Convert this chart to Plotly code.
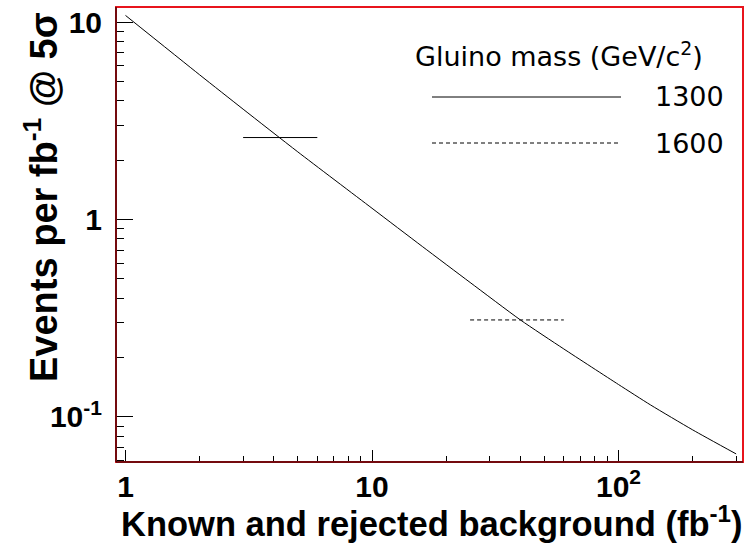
import numpy as np
import plotly.graph_objects as go

# Signal events per fb^-1 needed for a 5 sigma observation vs. background
background = [1, 2, 3, 5, 10, 16, 25, 40, 60, 100, 135, 200, 300]
events_5sigma = [10.8, 5.4, 3.62, 2.2, 1.14, 0.73, 0.48, 0.31, 0.221, 0.146, 0.115, 0.086, 0.065]

# Background ranges and required rates for the two gluino masses
mass_labels = ["1300", "1600"]
mass_bkg_ranges = [[3, 6], [25, 60]]
mass_events = [2.6, 0.31]
mass_dash = ["solid", "4px,3px"]

x_tickvals = [1, 10, 100]
x_ticktext = ["1", "10", "10<sup>2</sup>"]
y_tickvals = [0.1, 1, 10]
y_ticktext = ["10<sup>-1</sup>", "1", "10"]

W, H = 747, 547
L, R, T, B = 116, 4, 7, 85

fig = go.Figure()

fig.add_trace(go.Scatter(
    x=background, y=events_5sigma, mode="lines",
    line=dict(color="black", width=1, shape="spline", smoothing=0.6),
    showlegend=False, hoverinfo="skip"))

for rng, ev, dash in zip(mass_bkg_ranges, mass_events, mass_dash):
    fig.add_trace(go.Scatter(
        x=rng, y=[ev, ev], mode="lines",
        line=dict(color="black", width=1, dash=dash),
        showlegend=False, hoverinfo="skip"))

minor_x = [m * 10 ** e for e in range(0, 3) for m in range(2, 10) if m * 10 ** e < 330]
minor_y = [m * 10 ** e for e in range(-2, 2) for m in range(2, 10) if 0.055 < m * 10 ** e < 12.5]

FAM = "Liberation Sans, Arial, sans-serif"
bold = dict(family=FAM, size=30, color="black", weight="bold")

fig.update_xaxes(
    type="log", range=[-0.0385, 2.505],
    tickmode="array", tickvals=x_tickvals, ticktext=x_ticktext,
    ticks="inside", ticklen=12, tickwidth=1, tickcolor="black",
    minor=dict(tickmode="array", tickvals=minor_x, ticks="inside", ticklen=6,
               tickwidth=1, tickcolor="black", showgrid=False),
    showgrid=False, zeroline=False, showline=False,
    tickfont=bold, ticklabelstandoff=4)

fig.update_yaxes(
    type="log", range=[-1.228, 1.076],
    tickmode="array", tickvals=y_tickvals, ticktext=y_ticktext,
    ticks="inside", ticklen=17, tickwidth=1, tickcolor="black",
    minor=dict(tickmode="array", tickvals=minor_y, ticks="inside", ticklen=8,
               tickwidth=1, tickcolor="black", showgrid=False),
    showgrid=False, zeroline=False, showline=False,
    tickfont=bold, ticklabelstandoff=13)

# Frame: red box with black axis lines on the left and bottom
fig.add_shape(type="rect", xref="paper", yref="paper", x0=0, y0=0, x1=1, y1=1,
              line=dict(color="#e8141c", width=2), layer="above")
fig.add_shape(type="line", xref="paper", yref="paper", x0=0, y0=0, x1=1, y1=0,
              line=dict(color="black", width=1), layer="above")
fig.add_shape(type="line", xref="paper", yref="paper", x0=0, y0=0, x1=0, y1=1,
              line=dict(color="black", width=1), layer="above")

pw, ph = W - L - R, H - T - B
def px(xp):
    return (xp - L) / pw
def py(yp):
    return (H - B - yp) / ph

# Axis titles
fig.add_annotation(text="Known and rejected background (fb<sup>-1</sup>)",
                   xref="paper", yref="paper", x=px(744), y=py(521),
                   xanchor="right", yanchor="middle", showarrow=False,
                   font=dict(family=FAM, size=34.5, color="black", weight="bold"))
fig.add_annotation(text="Events per fb<sup>-1</sup> @ 5σ",
                   xref="paper", yref="paper", x=px(41), y=py(197),
                   xanchor="center", yanchor="middle", textangle=-90, showarrow=False,
                   font=dict(family=FAM, size=38, color="black", weight="bold"))

# Legend
leg_font = dict(family="DejaVu Sans, sans-serif", size=27, color="black")
fig.add_annotation(text="Gluino mass (GeV/c<sup>2</sup>)", xref="paper", yref="paper",
                   x=px(413), y=py(55), xanchor="left", yanchor="middle",
                   showarrow=False, font=leg_font)
for lbl, dash, yl in zip(mass_labels, mass_dash, [97, 143]):
    fig.add_shape(type="line", xref="paper", yref="paper",
                  x0=px(432), x1=px(621), y0=py(yl), y1=py(yl),
                  line=dict(color="black", width=1, dash=dash))
    fig.add_annotation(text=lbl, xref="paper", yref="paper",
                       x=px(726), y=py(yl), xanchor="right", yanchor="middle",
                       showarrow=False, font=leg_font)

fig.update_layout(
    width=W, height=H, margin=dict(l=L, r=R, t=T, b=B),
    paper_bgcolor="white", plot_bgcolor="white", showlegend=False)

fig.write_html("out.html")
